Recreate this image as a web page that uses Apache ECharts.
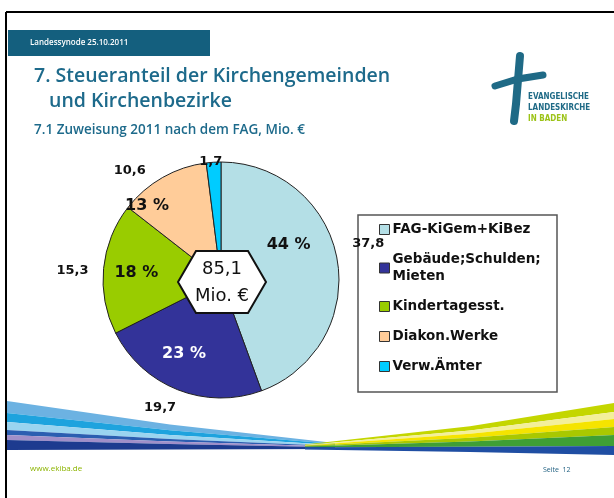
<!DOCTYPE html>
<html>
<head>
<meta charset="utf-8">
<script src="https://cdn.jsdelivr.net/npm/echarts@6/dist/echarts.min.js"></script>
<style>
html, body { margin: 0; padding: 0; background: #fff; }
#main { width: 614px; height: 498px; }
</style>
</head>
<body>
<div id="main"></div>
<script>
// Zuweisung 2011 nach dem FAG, Mio. €
var categories = ['FAG-KiGem+KiBez', 'Gebäude;Schulden; Mieten', 'Kindertagesst.', 'Diakon.Werke', 'Verw.Ämter'];
var values = [37.8, 19.7, 15.3, 10.6, 1.7];
var colors = ['#b4dfe6', '#333399', '#99cc00', '#ffcc99', '#00ccff'];
var unitText = 'Mio. €';

function deNum(v) { return v.toFixed(1).replace('.', ','); }
var total = values.reduce(function (a, b) { return a + b; }, 0);

var chart = echarts.init(document.getElementById('main'), null, { renderer: 'canvas' });

var pieCenter = [221, 280];
var pieR = 118;
var teal = '#1d6a8b';
var labelFont = 'DejaVu Sans';

// kleine Verschiebungen der Beschriftungen wie im Original
var outerNudge = [[6, -15], [5, 14], [-6, 3], [-10, -3], [14, 3]];
var innerNudge = [[-18, -20], [-5, -7], [2, 1], [-31, 1], [0, 0]];

var mainData = values.map(function (v, i) {
    return {
        name: categories[i], value: v,
        itemStyle: { color: colors[i] },
        label: { offset: outerNudge[i] }
    };
});
var pctData = values.map(function (v, i) {
    return {
        name: categories[i], value: v,
        label: {
            offset: innerNudge[i],
            color: i === 1 ? '#ffffff' : '#111111'
        }
    };
});

// Wellen am unteren Rand
var leftEdge = [401, 413, 422, 430, 435, 440, 450];
var leftTip = [443, 444, 445, 446, 446.6, 447.2, 449];
var leftCols = ['#6cb2e2', '#1ea3de', '#9ad4f0', '#2b5eb1', '#a08fc9', '#1d3b8f'];
var rightEdge = [403, 412, 419, 427, 435, 446, 455];
var rightTip = [444.5, 445, 445.5, 446, 446.5, 447.2, 449.5];
var rightCols = ['#c4d600', '#f3ef9a', '#f5e400', '#a9c800', '#3f9f35', '#1f4ea3'];
function mid(a, b, t) { return a + (b - a) * t; }
var waves = [];
leftCols.forEach(function (c, i) {
    waves.push({
        type: 'polygon', z: 1,
        shape: { points: [
            [7, leftEdge[i]], [170, mid(leftEdge[i], leftTip[i], 0.56)], [335, leftTip[i]],
            [335, leftTip[i + 1]], [170, mid(leftEdge[i + 1], leftTip[i + 1], 0.56)], [7, leftEdge[i + 1]]
        ] },
        style: { fill: c }
    });
});
rightCols.forEach(function (c, i) {
    waves.push({
        type: 'polygon', z: 1,
        shape: { points: [
            [305, rightTip[i]], [470, mid(rightTip[i], rightEdge[i], 0.44)], [614, rightEdge[i]],
            [614, rightEdge[i + 1]], [470, mid(rightTip[i + 1], rightEdge[i + 1], 0.44)], [305, rightTip[i + 1]]
        ] },
        style: { fill: c }
    });
});

var hexW = 44, hexH = 31, hexTop = 26;
var hc = [222, 282];

var option = {
    backgroundColor: '#ffffff',
    animation: false,
    color: colors,
    legend: {
        orient: 'vertical',
        left: 374,
        top: 216,
        itemWidth: 10,
        itemHeight: 10,
        itemGap: 13,
        icon: 'rect',
        selectedMode: false,
        data: categories,
        itemStyle: { borderColor: '#333', borderWidth: 1 },
        formatter: function (n) { return n.replace('; ', ';\n'); },
        textStyle: { fontFamily: labelFont, fontWeight: 'bold', fontSize: 13.5, color: '#111', lineHeight: 17, padding: [0, 0, 0, -2] }
    },
    series: [
        {
            type: 'pie',
            name: 'FAG',
            center: pieCenter,
            radius: pieR,
            startAngle: 90,
            clockwise: true,
            avoidLabelOverlap: false,
            itemStyle: { borderColor: '#222', borderWidth: 1 },
            label: {
                show: true,
                position: 'outside',
                formatter: function (p) { return deNum(p.value); },
                fontFamily: labelFont, fontWeight: 'bold', fontSize: 13, color: '#111'
            },
            labelLine: { show: false, length: 4, length2: 0 },
            emphasis: { disabled: true },
            data: mainData
        },
        {
            type: 'pie',
            name: 'Anteil',
            center: pieCenter,
            radius: [50, pieR],
            startAngle: 90,
            clockwise: true,
            silent: true,
            percentPrecision: 0,
            avoidLabelOverlap: false,
            itemStyle: { color: 'rgba(0,0,0,0)', borderWidth: 0 },
            label: {
                show: true,
                position: 'inside',
                formatter: function (p) { return p.percent >= 5 ? p.percent + ' %' : ''; },
                fontFamily: labelFont, fontWeight: 'bold', fontSize: 16
            },
            labelLine: { show: false },
            emphasis: { disabled: true },
            data: pctData
        }
    ],
    graphic: [
        // Rahmen oben und links
        { type: 'line', shape: { x1: 6, y1: 12, x2: 614, y2: 12 }, style: { stroke: '#000', lineWidth: 2 } },
        { type: 'line', shape: { x1: 6, y1: 12, x2: 6, y2: 498 }, style: { stroke: '#000', lineWidth: 2 } },
        // Kopfzeile
        { type: 'rect', shape: { x: 8, y: 30, width: 202, height: 26 }, style: { fill: '#145f7e' } },
        { type: 'text', x: 30, y: 43, style: { text: 'Landessynode 25.10.2011', fill: '#ffffff', font: '600 8px "Open Sans"', verticalAlign: 'middle' } },
        // Titel
        { type: 'text', x: 34, y: 76, style: { text: '7. Steueranteil der Kirchengemeinden', fill: teal, font: '600 19.5px "Open Sans"', verticalAlign: 'middle' } },
        { type: 'text', x: 49, y: 101, style: { text: 'und Kirchenbezirke', fill: teal, font: '600 19.5px "Open Sans"', verticalAlign: 'middle' } },
        { type: 'text', x: 34, y: 130, style: { text: '7.1 Zuweisung 2011 nach dem FAG, Mio. €', fill: teal, font: '600 13.5px "Open Sans"', verticalAlign: 'middle' } },
        // Logo
        { type: 'polyline', shape: { points: [[520, 56], [518, 80], [516, 104], [514, 121]] }, style: { stroke: '#1f6a86', lineWidth: 8, lineCap: 'round', fill: null } },
        { type: 'polyline', shape: { points: [[495, 86], [518, 79], [543, 75]] }, style: { stroke: '#1f6a86', lineWidth: 7, lineCap: 'round', fill: null } },
        { type: 'text', x: 528, y: 97, style: { text: 'EVANGELISCHE', fill: '#1f6a86', font: 'bold 8px "DejaVu Sans Condensed"', verticalAlign: 'middle' } },
        { type: 'text', x: 528, y: 108, style: { text: 'LANDESKIRCHE', fill: '#1f6a86', font: 'bold 8px "DejaVu Sans Condensed"', verticalAlign: 'middle' } },
        { type: 'text', x: 528, y: 119, style: { text: 'IN BADEN', fill: '#9cc317', font: 'bold 8px "DejaVu Sans Condensed"', verticalAlign: 'middle' } },
        // Legendenrahmen
        { type: 'rect', z: 0, shape: { x: 358, y: 215, width: 199, height: 177 }, style: { fill: '#fff', stroke: '#555', lineWidth: 1.5 } },
        // Sechseck mit Summe
        {
            type: 'polygon', z: 100,
            shape: { points: [[hc[0] - hexW, hc[1]], [hc[0] - hexTop, hc[1] - hexH], [hc[0] + hexTop, hc[1] - hexH], [hc[0] + hexW, hc[1]], [hc[0] + hexTop, hc[1] + hexH], [hc[0] - hexTop, hc[1] + hexH]] },
            style: { fill: '#ffffff', stroke: '#111', lineWidth: 2 }
        },
        { type: 'text', z: 101, x: hc[0], y: hc[1] - 13, style: { text: deNum(total), fill: '#111', font: '18px "DejaVu Sans"', align: 'center', verticalAlign: 'middle' } },
        { type: 'text', z: 101, x: hc[0], y: hc[1] + 14, style: { text: unitText, fill: '#111', font: '18px "DejaVu Sans"', align: 'center', verticalAlign: 'middle' } },
        // Fußzeile
        { type: 'text', x: 30, y: 469, style: { text: 'www.ekiba.de', fill: '#8cb400', font: '8px "Open Sans"', verticalAlign: 'middle' } },
        { type: 'text', x: 543, y: 470, style: { text: 'Seite  12', fill: '#1f5f80', font: '7px "Open Sans"', verticalAlign: 'middle' } }
    ].concat(waves)
};

chart.setOption(option);
</script>
</body>
</html>
